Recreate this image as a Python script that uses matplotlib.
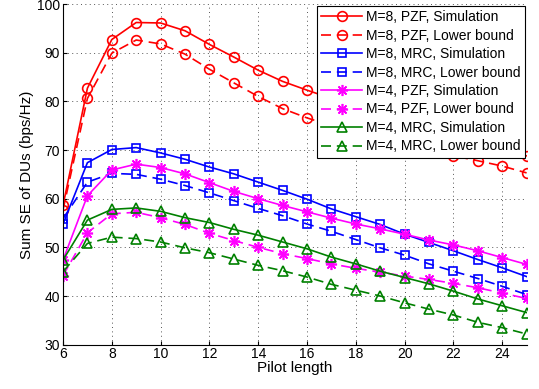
import matplotlib
matplotlib.use("Agg")
import matplotlib.pyplot as plt

plt.rcParams['font.family'] = ['Liberation Sans', 'DejaVu Sans']

pilot = list(range(6, 26))

m8_pzf_sim = [58.6, 82.7, 92.7, 96.2, 96.1, 94.5, 91.7, 89.1, 86.4, 84.1,
              82.3, 80.6, 79.0, 77.4, 75.8, 74.3, 72.8, 71.4, 70.1, 68.8]
m8_pzf_lb = [57.7, 80.6, 89.9, 92.6, 91.8, 89.7, 86.6, 83.8, 81.0, 78.5,
             76.6, 75.0, 73.6, 72.3, 71.0, 69.9, 68.8, 67.8, 66.7, 65.3]
m8_mrc_sim = [54.8, 67.4, 70.1, 70.5, 69.4, 68.1, 66.5, 65.1, 63.4, 61.7,
              59.9, 57.9, 56.3, 54.7, 52.7, 51.0, 49.3, 47.5, 45.8, 44.0]
m8_mrc_lb = [55.9, 63.4, 65.2, 65.0, 64.0, 62.7, 61.2, 59.6, 58.0, 56.5,
             54.8, 53.3, 51.6, 49.9, 48.4, 46.6, 45.1, 43.6, 42.0, 40.3]
m4_pzf_sim = [47.4, 60.6, 65.9, 67.1, 66.4, 65.1, 63.3, 61.5, 60.0, 58.6,
              57.3, 56.0, 54.8, 53.8, 52.7, 51.5, 50.5, 49.3, 47.9, 46.5]
m4_pzf_lb = [44.2, 53.0, 56.9, 57.2, 56.1, 54.7, 52.9, 51.4, 50.0, 48.7,
             47.7, 46.6, 45.7, 44.9, 44.1, 43.4, 42.6, 41.7, 40.6, 39.5]
m4_mrc_sim = [47.4, 55.6, 57.8, 58.1, 57.4, 56.1, 55.1, 53.7, 52.5, 51.1,
              49.7, 48.0, 46.6, 45.1, 43.8, 42.5, 41.0, 39.4, 38.0, 36.6]
m4_mrc_lb = [45.0, 50.8, 52.1, 51.8, 51.1, 49.9, 48.9, 47.6, 46.3, 45.2,
             43.9, 42.4, 41.2, 40.0, 38.6, 37.3, 36.1, 34.6, 33.5, 32.2]

labels = ["M=8, PZF, Simulation", "M=8, PZF, Lower bound",
          "M=8, MRC, Simulation", "M=8, MRC, Lower bound",
          "M=4, PZF, Simulation", "M=4, PZF, Lower bound",
          "M=4, MRC, Simulation", "M=4, MRC, Lower bound"]
xticks = [6, 8, 10, 12, 14, 16, 18, 20, 22, 24]
yticks = [30, 40, 50, 60, 70, 80, 90, 100]

series = [m8_pzf_sim, m8_pzf_lb, m8_mrc_sim, m8_mrc_lb,
          m4_pzf_sim, m4_pzf_lb, m4_mrc_sim, m4_mrc_lb]
colors = ['#ff0000', '#ff0000', '#0000ff', '#0000ff',
          '#ff00ff', '#ff00ff', '#008000', '#008000']
markers = ['o', 'o', 's', 's', (8, 2, 0), (8, 2, 0), '^', '^']
msizes = [7, 7, 5.5, 5.5, 8, 8, 6.5, 6.5]

fig = plt.figure(figsize=(5.39, 3.89), dpi=100)
ax = fig.add_axes([0.1169, 0.1139, 0.977 - 0.1169, 0.9897 - 0.1139])

for i, (y, c, m, ms, lab) in enumerate(zip(series, colors, markers, msizes, labels)):
    ls = '-' if i % 2 == 0 else (0, (6, 3.5))
    ax.plot(pilot, y, color=c, linestyle=ls, linewidth=1.2, marker=m,
            markersize=ms, markerfacecolor='none', markeredgecolor=c,
            markeredgewidth=1.2, label=lab)

ax.set_xlim(6, 25)
ax.set_ylim(30, 100)
ax.set_xticks(xticks)
ax.set_yticks(yticks)
ax.tick_params(direction='in', length=3, labelsize=10, colors='#000000',
               top=False, right=False, pad=2)
ax.spines['top'].set_visible(False)
ax.spines['right'].set_visible(False)
ax.spines['left'].set_linewidth(0.8)
ax.spines['bottom'].set_linewidth(0.8)
ax.grid(True, linestyle=(0, (1, 3.5)), color='#555555', linewidth=0.7)
ax.set_axisbelow(True)
ax.set_xlabel("Pilot length", fontsize=11, labelpad=0)
ax.set_ylabel("Sum SE of DUs (bps/Hz)", fontsize=11, labelpad=2)

leg = ax.legend(loc='upper right', fontsize=10, fancybox=False,
                framealpha=1, edgecolor='black', borderaxespad=0.15,
                handlelength=3.0, labelspacing=0.32, borderpad=0.3,
                handletextpad=0.25)
leg.get_frame().set_linewidth(0.8)

fig.savefig("out.png", dpi=100)
